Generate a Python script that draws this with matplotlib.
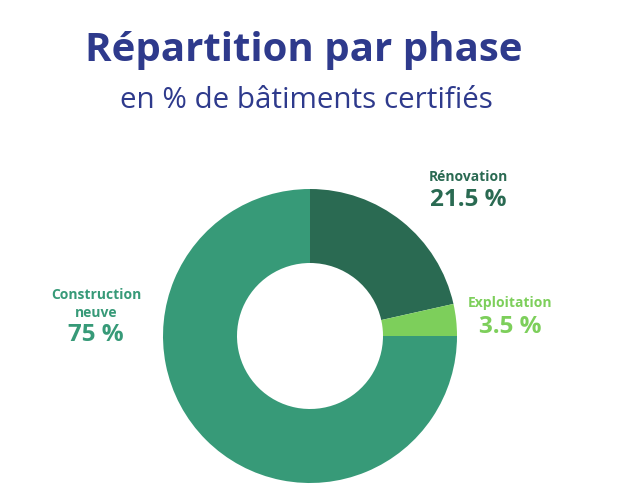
import matplotlib
matplotlib.use("Agg")
import matplotlib.pyplot as plt

categories = ["Rénovation", "Exploitation", "Construction\nneuve"]
values = [21.5, 3.5, 75]
value_labels = ["21.5 %", "3.5 %", "75 %"]
colors = ["#2a6a52", "#7dcf5b", "#379a78"]

plt.rcParams['font.family'] = ['Open Sans', 'DejaVu Sans']

fig = plt.figure(figsize=(6.2, 5.0), dpi=100)
ax = fig.add_axes([0, 0, 1, 1])

ax.pie(values, colors=colors, startangle=90, counterclock=False,
       center=(310, 164), radius=147, frame=True,
       wedgeprops=dict(width=74, linewidth=0))
ax.set_xlim(0, 620)
ax.set_ylim(0, 500)
ax.set_aspect("equal")
ax.axis("off")

title_color = "#2e3a8c"
fig.text(304/620, 1 - 50/500, "Répartition par phase", ha="center", va="center",
         fontsize=29, fontweight="bold", color=title_color)
fig.text(306/620, 1 - 101/500, "en % de bâtiments certifiés", ha="center", va="center",
         fontsize=21.3, color=title_color)

# labels
pos_name = [(468, 177), (510, 303), (96, 304)]
pos_val = [(468, 200), (510, 327), (96, 335)]
for name, val, c, (nx, ny), (vx, vy) in zip(categories, value_labels, colors, pos_name, pos_val):
    fig.text(nx/620, 1 - ny/500, name, ha="center", va="center", fontsize=10,
             fontweight="bold", color=c, linespacing=1.3)
    fig.text(vx/620, 1 - vy/500, val, ha="center", va="center", fontsize=17.5,
             fontweight="bold", color=c)

fig.savefig("out.png", dpi=100, facecolor="white")
